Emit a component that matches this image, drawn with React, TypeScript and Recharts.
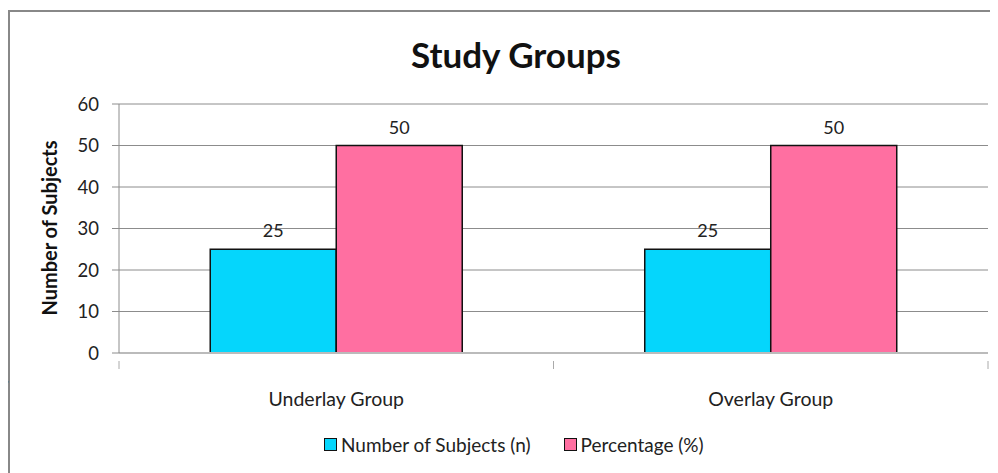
import React from "react";
import {
  BarChart,
  Bar,
  XAxis,
  YAxis,
  CartesianGrid,
  LabelList,
} from "recharts";

// Study groups data
const groups = ["Underlay Group", "Overlay Group"];
const subjects = [25, 25];
const percentage = [50, 50];
const yTicks = [0, 10, 20, 30, 40, 50, 60];

const BLUE = "#05D6FC";
const PINK = "#FF6FA1";
const FONT = "Lato, 'Open Sans', sans-serif";

const data = groups.map((g, i) => ({
  name: g,
  n: subjects[i],
  pct: percentage[i],
}));

// category label + Excel style boundary tick marks
const CategoryTick = (props: any) => {
  const { x, y, payload } = props;
  const half = payload && payload.offset ? payload.offset : 217;
  return (
    <g>
      <line x1={x - half} y1={y} x2={x - half} y2={y + 8} stroke="#aaa" />
      <line x1={x + half} y1={y} x2={x + half} y2={y + 8} stroke="#aaa" />
      <text
        x={x}
        y={y + 37}
        textAnchor="middle"
        dominantBaseline="central"
        fontFamily={FONT}
        fontSize={19.5}
        fill="#222"
      >
        {payload.value}
      </text>
    </g>
  );
};

const LegendItem = ({ color, label, gap }: { color: string; label: string; gap: number }) => (
  <div style={{ display: "flex", alignItems: "center", marginRight: gap }}>
    <span
      style={{
        display: "inline-block",
        width: 11,
        height: 11,
        background: color,
        border: "1.5px solid #111",
        marginRight: 4,
      }}
    />
    <span>{label}</span>
  </div>
);

export default function App() {
  return (
    <div style={{ position: "relative", width: 990, height: 465, fontFamily: FONT }}>
      <div
        style={{
          position: "absolute",
          left: 0,
          top: 2,
          width: 988,
          height: 463,
          borderLeft: "2px solid #888",
          borderTop: "2px solid #888",
        }}
      />
      <div style={{ position: "absolute", left: 0, top: 0 }}>
        <BarChart
          width={990}
          height={465}
          data={data}
          margin={{ top: 96, right: 10, bottom: 90, left: 51 }}
          barCategoryGap="21%"
          barGap={0}
        >
          <text
            x={508}
            y={46}
            textAnchor="middle"
            dominantBaseline="central"
            fontFamily={FONT}
            fontSize={35}
            fontWeight="bold"
            fill="#111"
          >
            Study Groups
          </text>
          <text
            x={41}
            y={220}
            transform="rotate(-90 41 220)"
            textAnchor="middle"
            dominantBaseline="central"
            fontFamily={FONT}
            fontSize={20}
            fontWeight="bold"
            fill="#111"
          >
            Number of Subjects
          </text>
          <CartesianGrid vertical={false} stroke="#8c8c8c" />
          <XAxis
            dataKey="name"
            axisLine={{ stroke: "#bbb", strokeWidth: 2 }}
            tickLine={false}
            tick={<CategoryTick />}
            height={30}
            interval={0}
          />
          <YAxis
            width={60}
            domain={[0, 60]}
            ticks={yTicks}
            interval={0}
            axisLine={{ stroke: "#8c8c8c" }}
            tickLine={{ stroke: "#8c8c8c" }}
            tickSize={7}
            tickMargin={13}
            tick={{ fontFamily: FONT, fontSize: 18.5, fill: "#222" }}
          />
          <Bar
            dataKey="n"
            name="Number of Subjects (n)"
            fill={BLUE}
            stroke="#111"
            strokeWidth={1.5}
            isAnimationActive={false}
          >
            <LabelList
              dataKey="n"
              position="top"
              offset={12}
              style={{ fontFamily: FONT, fontSize: 18, fill: "#222" }}
            />
          </Bar>
          <Bar
            dataKey="pct"
            name="Percentage (%)"
            fill={PINK}
            stroke="#111"
            strokeWidth={1.5}
            isAnimationActive={false}
          >
            <LabelList
              dataKey="pct"
              position="top"
              offset={12}
              style={{ fontFamily: FONT, fontSize: 18, fill: "#222" }}
            />
          </Bar>
        </BarChart>
      </div>
      <div
        style={{
          position: "absolute",
          left: 316,
          top: 425,
          display: "flex",
          fontSize: 19,
          color: "#222",
        }}
      >
        <LegendItem color={BLUE} label="Number of Subjects (n)" gap={33} />
        <LegendItem color={PINK} label="Percentage (%)" gap={0} />
      </div>
      <span
        style={{
          position: "absolute",
          left: -7,
          top: 365,
          zIndex: 2,
          fontFamily: "'Liberation Sans', Arial, sans-serif",
          fontSize: 22,
          lineHeight: "26px",
          color: "#111",
        }}
      >
        r
      </span>
    </div>
  );
}
